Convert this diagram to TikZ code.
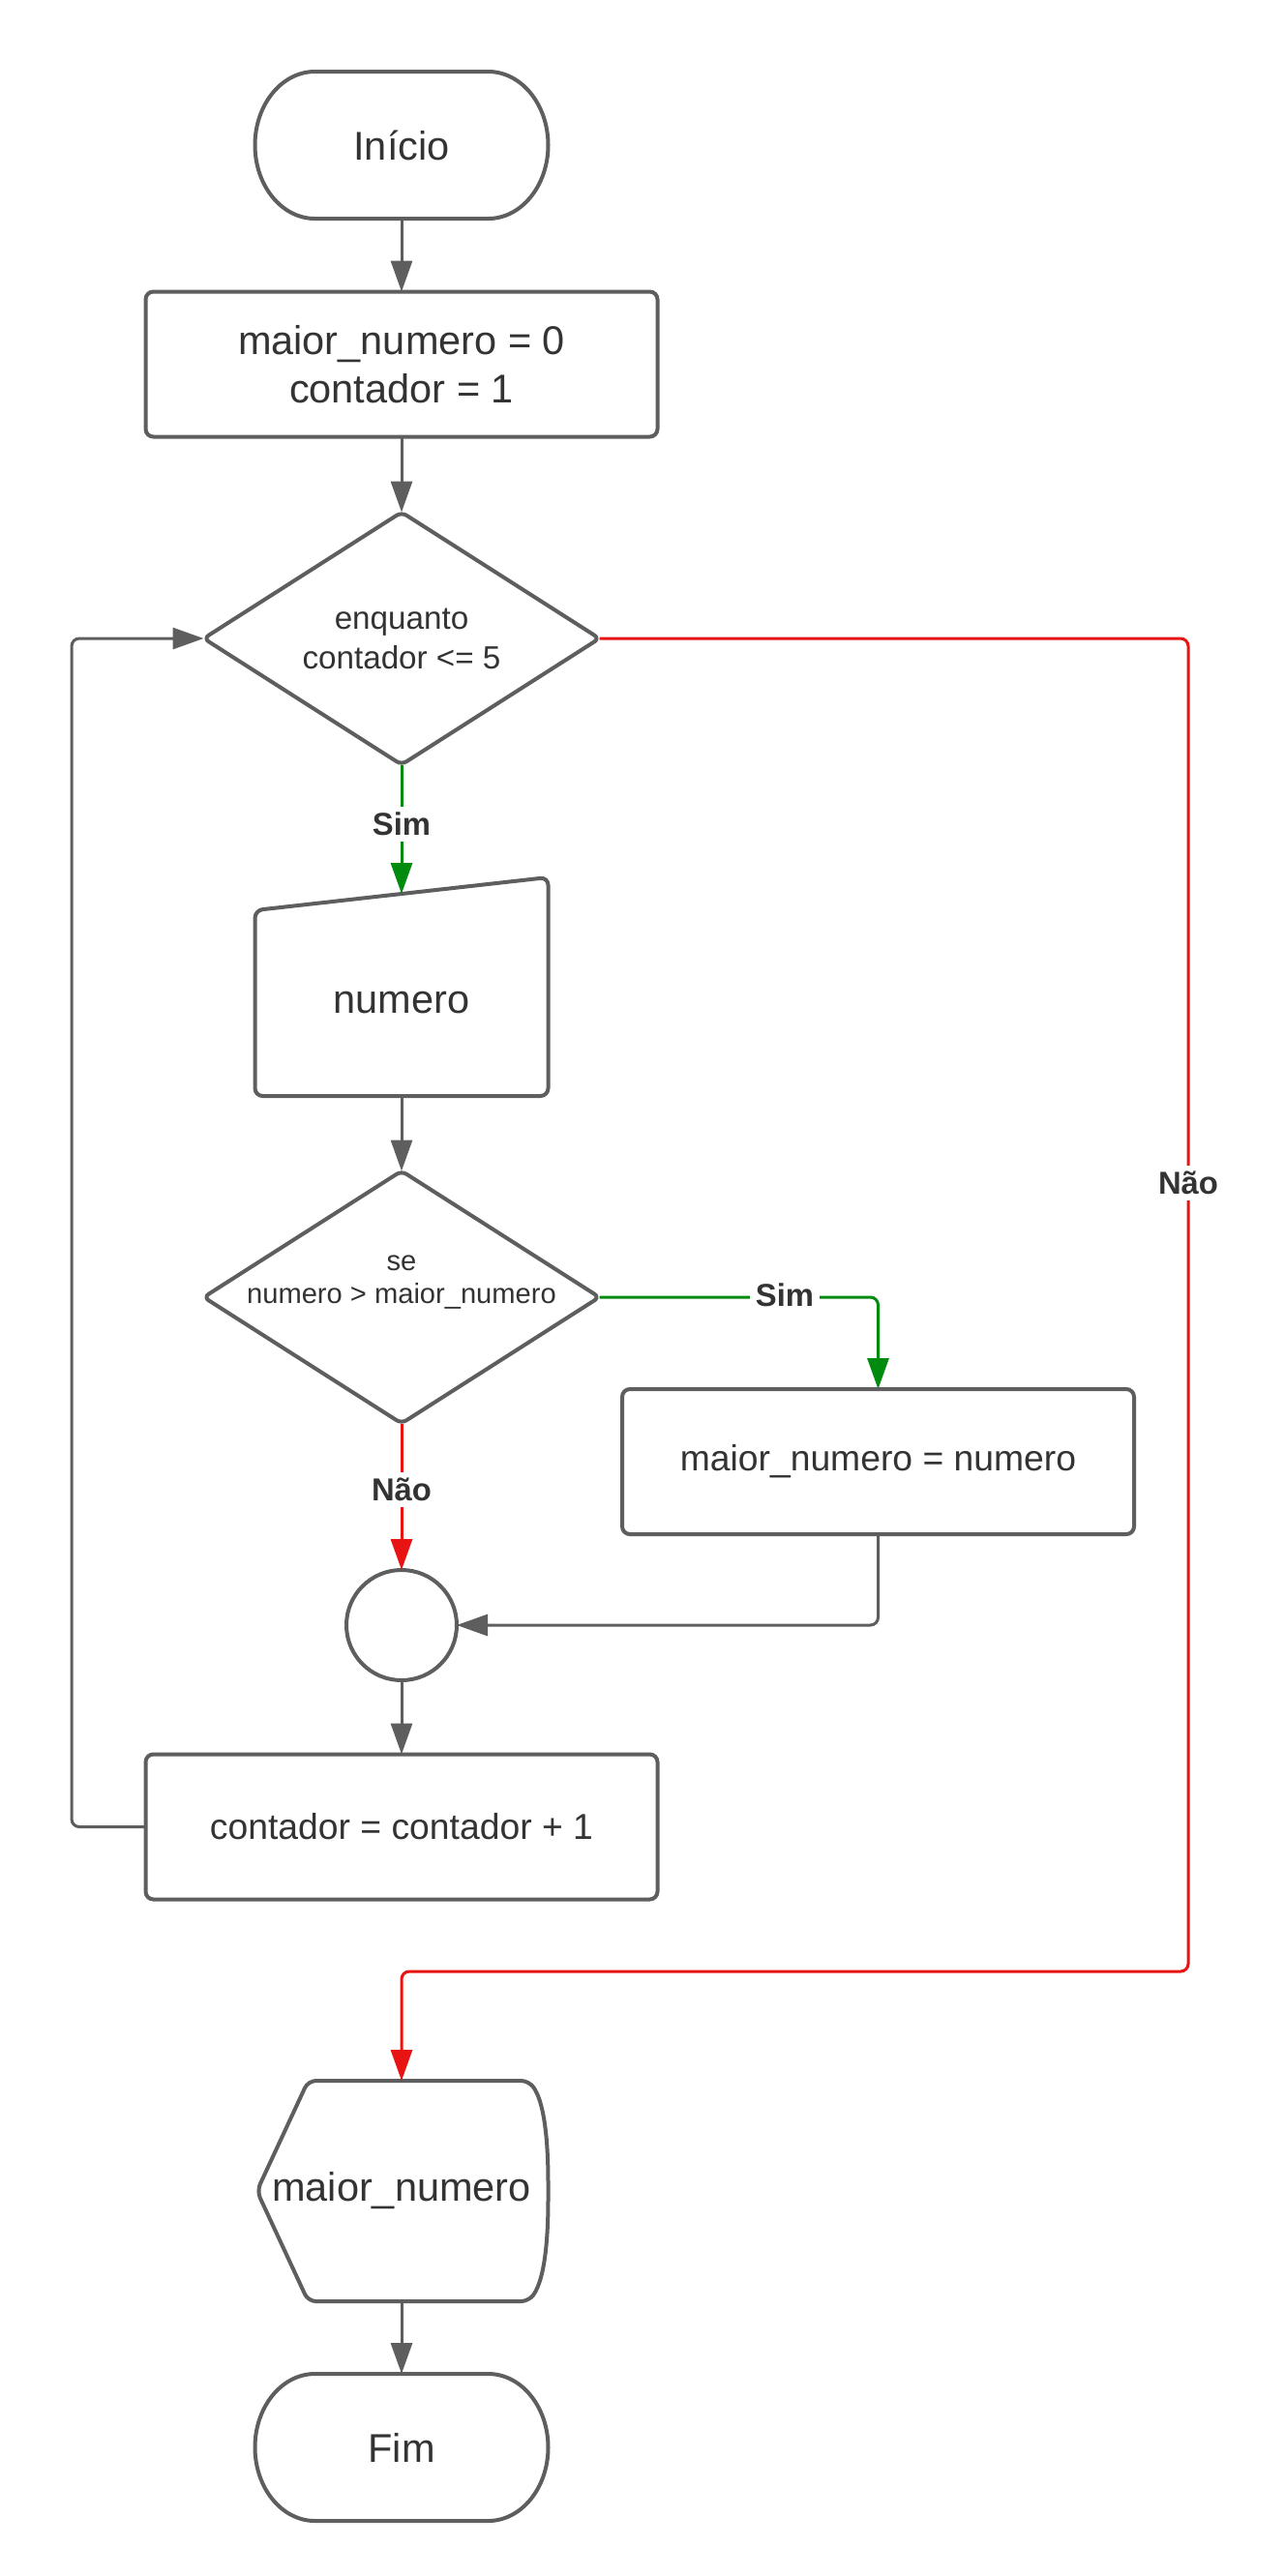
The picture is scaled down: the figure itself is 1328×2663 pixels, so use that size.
\documentclass[tikz,border=0pt]{standalone}
\usepackage{fontspec}
\setmainfont{Liberation Sans}
\usetikzlibrary{arrows.meta,calc}
\definecolor{lgray}{HTML}{5E5E5E}
\definecolor{ltext}{HTML}{333333}
\definecolor{lred}{HTML}{E81313}
\definecolor{lgreen}{HTML}{008A0E}
\newcommand\mainfont{\fontsize{20.75pt}{25pt}\selectfont}
\newcommand\midfont{\fontsize{18.65pt}{22pt}\selectfont}
\newcommand\dafont{\fontsize{16.6pt}{20.5pt}\selectfont}
\newcommand\dbfont{\fontsize{14.56pt}{17pt}\selectfont}
\newcommand\lblfont{\bfseries\fontsize{16.4pt}{19pt}\selectfont}
\newcommand\terminalpath[1]{%
  \draw[outline] ($(#1.north west)+(62,0)$) -- ($(#1.north east)+(-62,0)$)
    arc[start angle=90,end angle=-90,x radius=31pt,y radius=38pt]
    -- ($(#1.south west)+(62,0)$)
    arc[start angle=270,end angle=90,x radius=31pt,y radius=38pt] -- cycle;}
\begin{document}
\begin{tikzpicture}[x=0.5pt,y=0.5pt,
  box/.style={draw=none, inner sep=0pt, outer sep=0pt, text=ltext, align=center, font=\mainfont},
  terminal/.style={box, minimum width=151.5pt, minimum height=76pt},
  procbox/.style={box, minimum width=264.5pt, minimum height=75pt},
  decision/.style={box, minimum width=204.5pt, minimum height=130.5pt},
  outline/.style={draw=lgray, line width=2pt, line join=round},
  conn/.style={draw=lgray, line width=1.5pt, rounded corners=4pt, -{Triangle[length=16pt,width=11pt]}},
  redconn/.style={conn, draw=lred, -{Triangle[length=16pt,width=11pt,color=lred]}},
  greenconn/.style={conn, draw=lgreen, -{Triangle[length=16pt,width=11pt,color=lgreen]}},
  lbl/.style={fill=white, text=ltext, inner sep=3pt, font=\lblfont}
]
\fill[white] (0,0) rectangle (1328,-2663);
\useasboundingbox (0,0) rectangle (1328,-2663);

% nodes
\node[terminal] (inicio) at (415,-150) {Início};
\node[procbox] (init) at (415,-376.5) {maior\_numero = 0\\contador = 1};
\node[decision, font=\dafont] (d1) at (415,-660) {enquanto\\contador <= 5};
\node[box, minimum width=151.5pt, minimum height=96pt] (numero) at (415,-1037) {numero};
\coordinate (numtop) at (415,-924);
\node[decision] (d2) at (415,-1341) {};
\node[box, font=\dbfont] (d2txt) at (415,-1326) {se\\numero > maior\_numero};
\node[procbox, font=\midfont] (r3) at (907.5,-1511) {maior\_numero = numero};
\node[box, circle, minimum size=57pt] (circ) at (415,-1680) {};
\node[procbox, font=\midfont] (r4) at (415,-1888.5) {contador = contador + 1};
\node[box, minimum width=151.5pt, minimum height=114pt] (disp) at (415,-2265) {maior\_numero};
\node[terminal] (fim) at (415,-2530) {Fim};
\coordinate (loopx) at (74,0);
\coordinate (rightx) at (1228,0);
\coordinate (redturn) at (0,-2038);

% outlines
\terminalpath{inicio}
\terminalpath{fim}
\draw[outline, rounded corners=4pt] (init.south west) rectangle (init.north east);
\draw[outline, rounded corners=4pt] (r3.south west) rectangle (r3.north east);
\draw[outline, rounded corners=4pt] (r4.south west) rectangle (r4.north east);
\draw[outline, rounded corners=3pt] (d1.west) -- (d1.north) -- (d1.east) -- (d1.south) -- cycle;
\draw[outline, rounded corners=3pt] (d2.west) -- (d2.north) -- (d2.east) -- (d2.south) -- cycle;
\draw[outline, rounded corners=4pt] (numero.south west) -- (numero.north west)
  -- ($(numero.north east)+(0,34)$) -- (numero.south east) -- cycle;
\draw[outline] (circ) circle[radius=28.5pt];
\draw[outline, rounded corners=4pt] ($(disp.west)+(2,0)$) -- ($(disp.north west)+(55,0)$)
  -- ($(disp.north east)+(-20,0)$)
  .. controls ($(disp.north east)+(-2,-25)$) and ($(disp.east)+(0,40)$) .. (disp.east)
  .. controls ($(disp.east)+(0,-40)$) and ($(disp.south east)+(-2,25)$) .. ($(disp.south east)+(-20,0)$)
  -- ($(disp.south west)+(55,0)$) -- cycle;

% connectors
\draw[conn] (inicio.south) -- (init.north);
\draw[conn] (init.south) -- (d1.north);
\draw[greenconn] (d1.south) -- (numtop);
\node[lbl] (simA) at (415,-852) {Sim};
\draw[conn] (numero.south) -- (d2.north);
\draw[greenconn] (d2.east) -| (r3.north);
\node[lbl] (simB) at (811,-1339) {Sim};
\draw[redconn] (d2.south) -- (circ.north);
\node[lbl] (naoA) at (415,-1540) {Não};
\draw[conn] (r3.south) |- (circ.east);
\draw[conn] (circ.south) -- (r4.north);
\draw[conn] (r4.west) -- (r4.west -| loopx) -- (d1.west -| loopx) -- (d1.west);
\draw[redconn] (d1.east) -- (d1.east -| rightx) -- (redturn -| rightx) -- (redturn -| disp.north) -- (disp.north);
\node[lbl] (naoB) at (1228,-1223) {Não};
\draw[conn] (disp.south) -- (fim.north);
\end{tikzpicture}
\end{document}
